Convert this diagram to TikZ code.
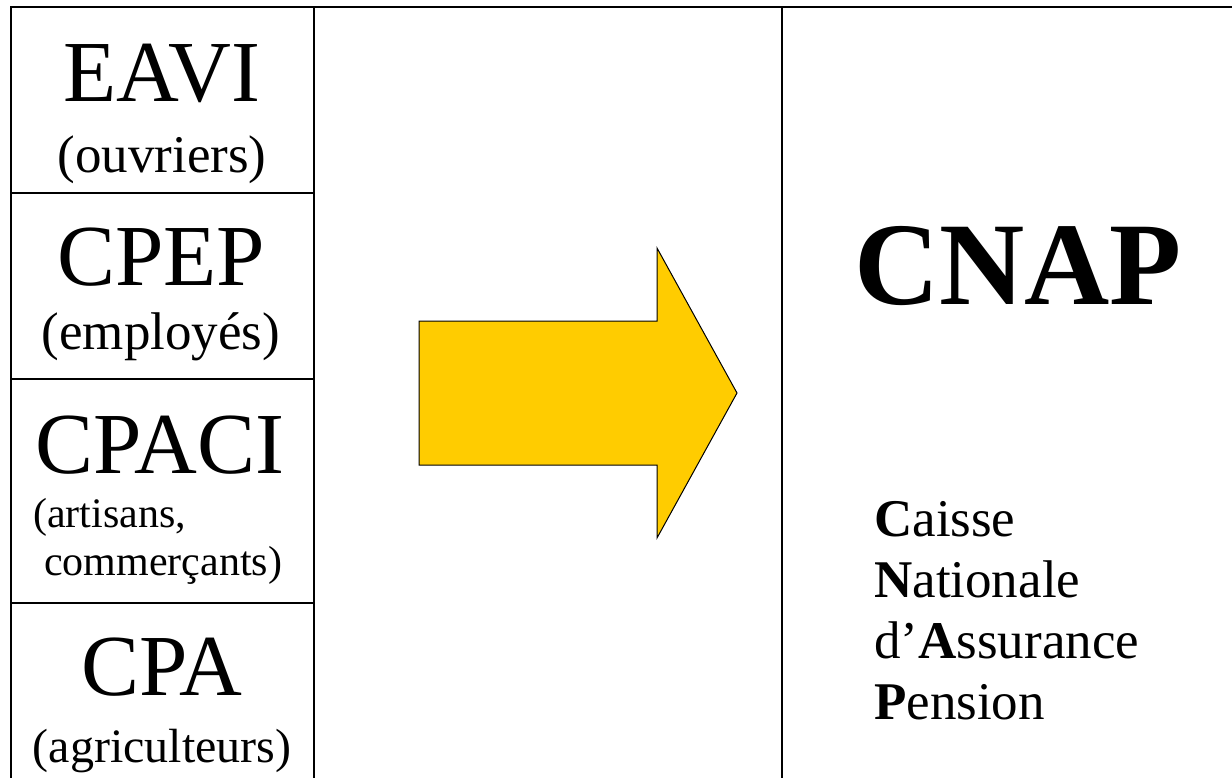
\documentclass[tikz,border=0pt]{standalone}
\usepackage{fontspec}
\setmainfont{Liberation Serif}
\definecolor{arrowyellow}{RGB}{255,204,0}
\begin{document}
\begin{tikzpicture}[x=1pt,y=-1pt,
  frame/.style={line width=2pt,black},
  big/.style={anchor=base,inner sep=0pt,font=\fontsize{87}{100}\selectfont},
  sub/.style={anchor=base,inner sep=0pt,font=\fontsize{53}{60}\selectfont},
  small/.style={anchor=base west,inner sep=0pt,font=\fontsize{42}{50}\selectfont},
  expl/.style={anchor=base west,inner sep=0pt,font=\fontsize{53}{61}\selectfont}]
\useasboundingbox (0,0) rectangle (1232,778);
\fill[white] (0,0) rectangle (1232,778);
% frame
\draw[frame] (11,778) -- (11,7) -- (1232,7);
\draw[frame] (314,7) -- (314,778);
\draw[frame] (782,7) -- (782,778);
\draw[frame] (11,193) -- (314,193);
\draw[frame] (11,379) -- (314,379);
\draw[frame] (11,603) -- (314,603);
% left column texts
\node[big] (eavi) at (162,102) {EAVI};
\node[sub] (ouv) at (162,173) {(ouvriers)};
\node[big] (cpep) at (161,286) {CPEP};
\node[sub] (emp) at (161,349) {(employés)};
\node[big] (cpaci) at (160,473) {CPACI};
\node[small] (art) at (33,527) {(artisans,};
\node[small] (com) at (44,575) {commerçants)};
\node[big] (cpa) at (162,695) {CPA};
\node[sub,font=\fontsize{48}{56}\selectfont] (agr) at (162,762) {(agriculteurs)};
% arrow
\draw[fill=arrowyellow,line width=1pt,line join=miter]
  (419,321) -- (657,321) -- (657,248) -- (737,393) -- (657,538) -- (657,465) -- (419,465) -- cycle;
% right column
\node[anchor=base,inner sep=0pt,font=\fontsize{118}{130}\selectfont\bfseries] (cnap) at (1018,305) {CNAP};
\node[expl] (l1) at (874,536) {\textbf{C}aisse};
\node[expl] (l2) at (874,597) {\textbf{N}ationale};
\node[expl] (l3) at (874,658) {d’\textbf{A}ssurance};
\node[expl] (l4) at (874,719) {\textbf{P}ension};
\end{tikzpicture}
\end{document}
